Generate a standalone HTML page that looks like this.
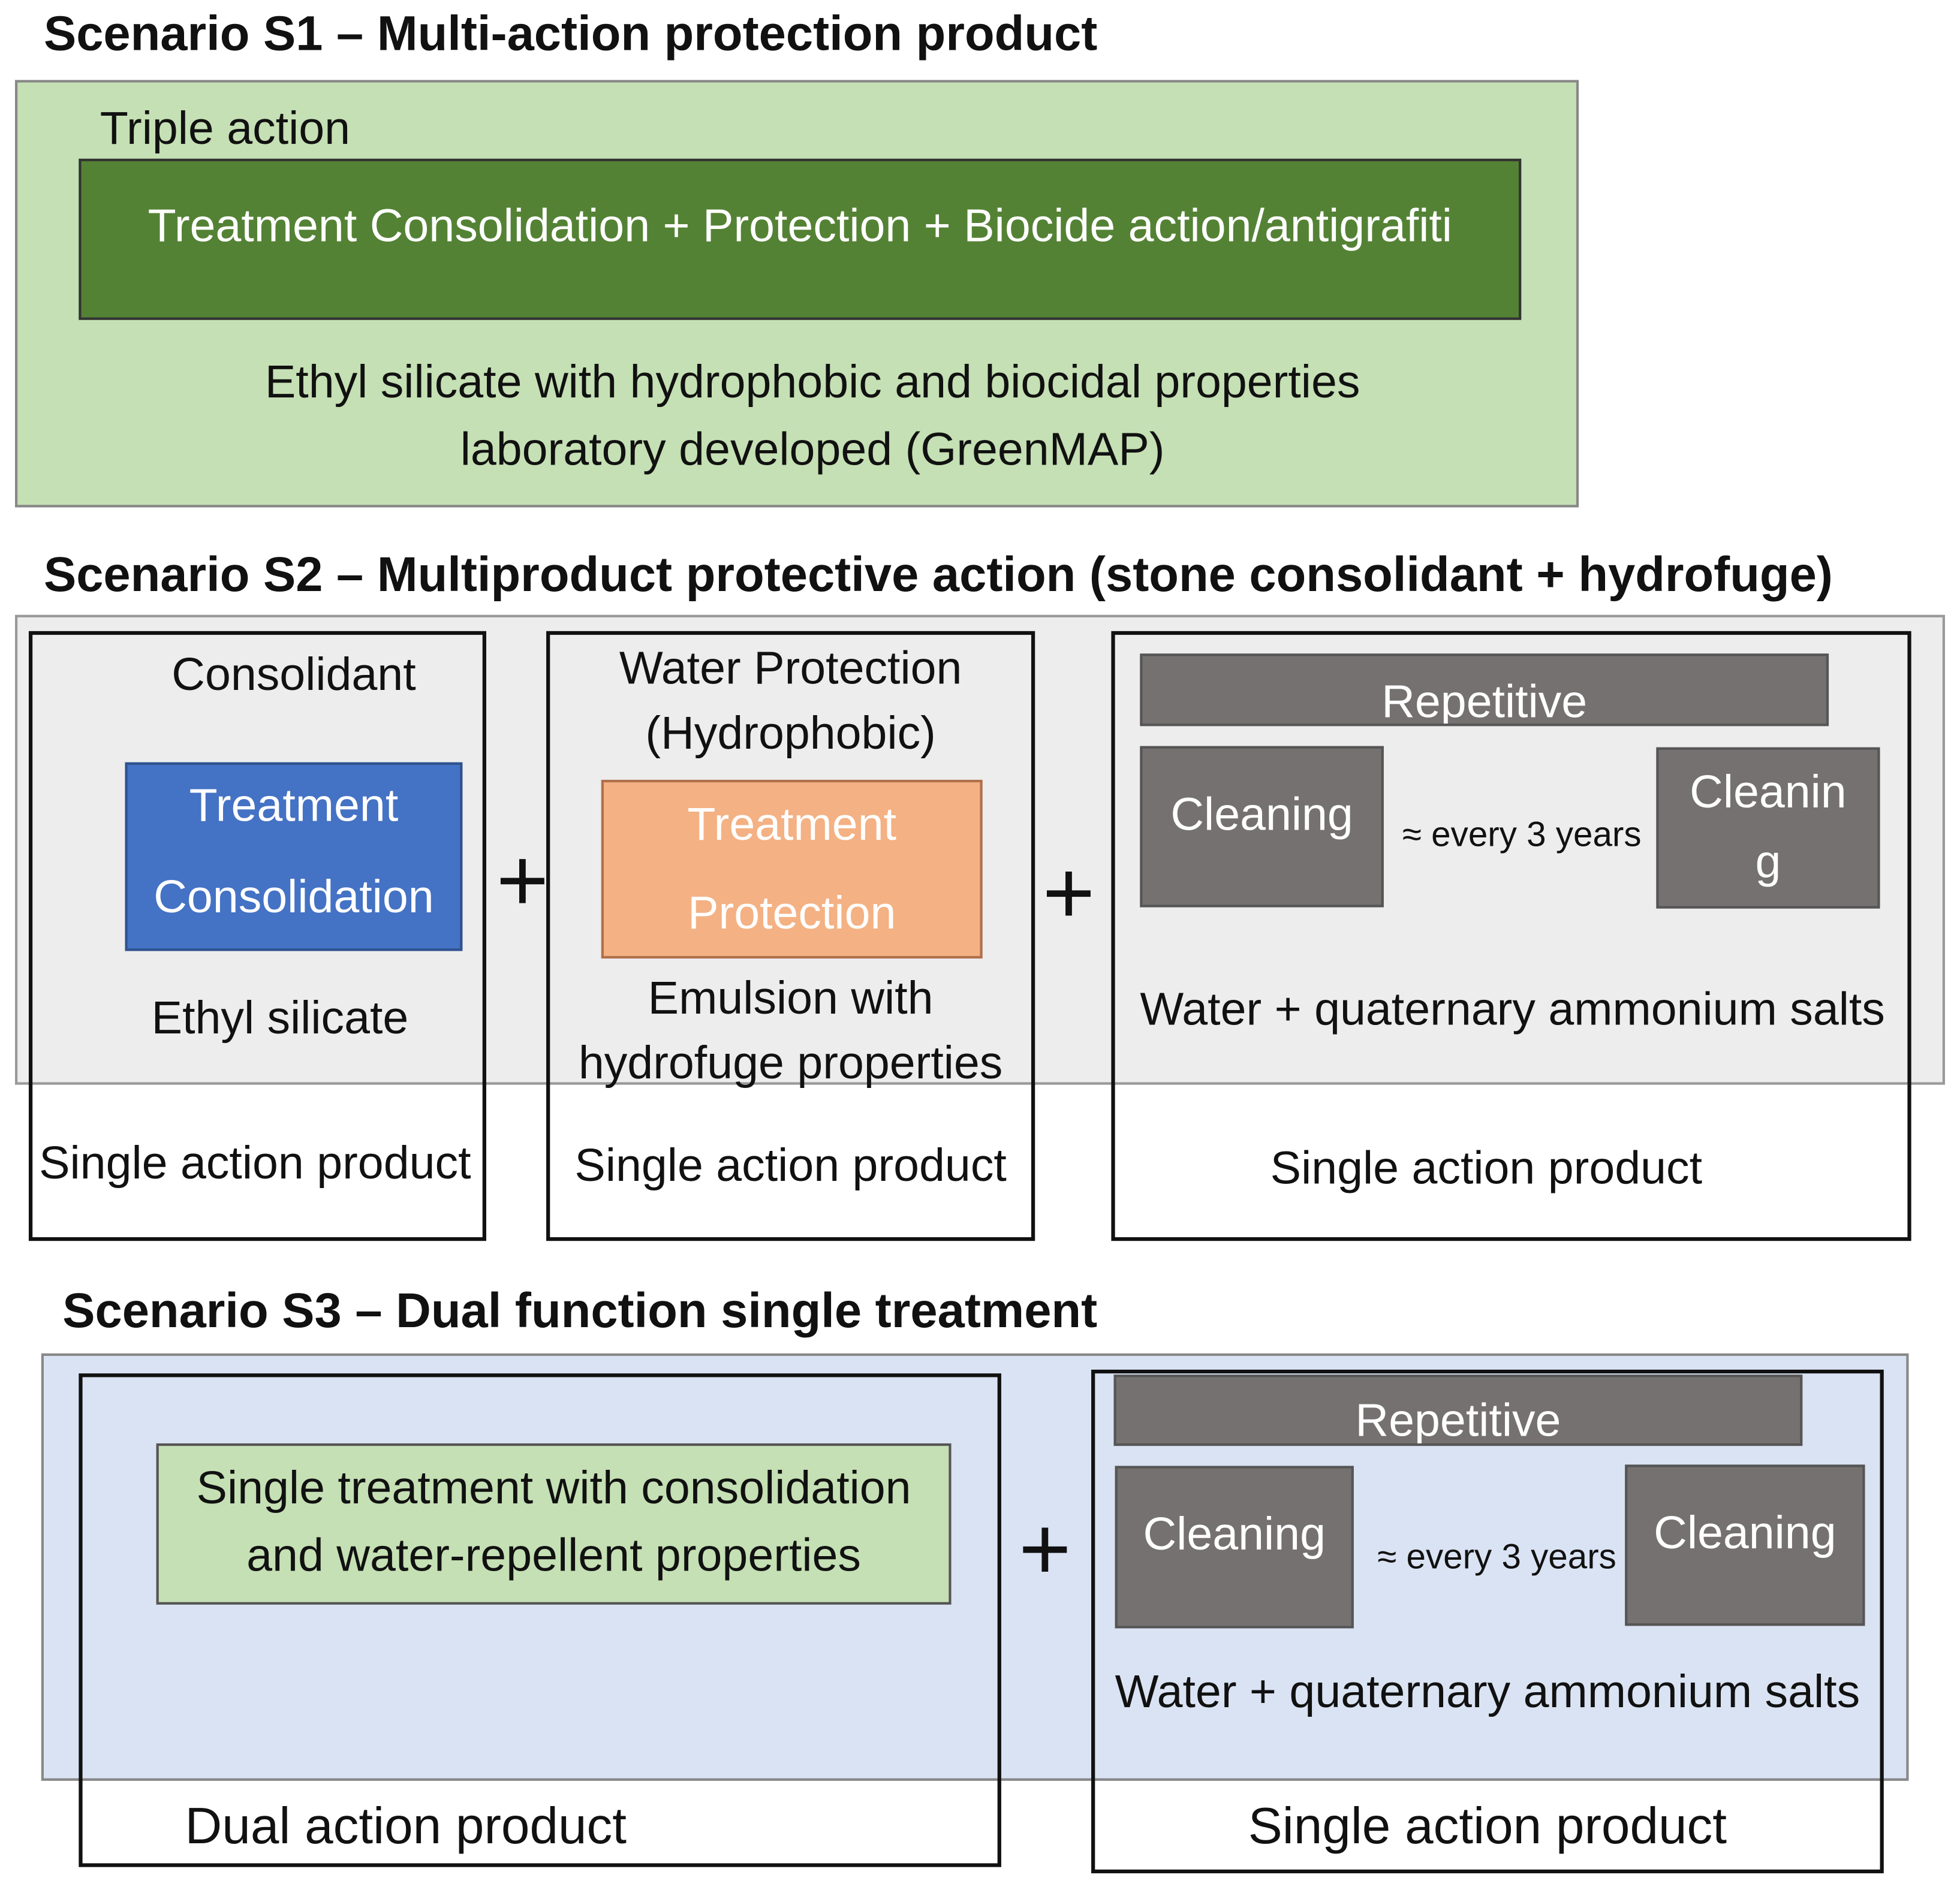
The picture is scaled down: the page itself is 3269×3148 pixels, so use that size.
<!DOCTYPE html>
<html><head><meta charset="utf-8"><style>
html,body{margin:0;padding:0;background:#fff;}
#w{position:relative;width:1568px;height:1510px;transform:scale(2.0848);transform-origin:0 0;font-family:"Liberation Sans",sans-serif;color:#111;}
.b{position:absolute;box-sizing:border-box;}
.t{position:absolute;white-space:nowrap;line-height:40px;height:40px;font-size:37px;text-align:center;}
.h{font-weight:bold;font-size:39px;text-align:left;}
.wt{color:#fff;}
.plus{font-size:72px;line-height:80px;height:80px;font-weight:normal;}
.g{background:#757171;border:2px solid #555;}
.s{font-size:28px;}
.l{font-size:41px;}
</style></head><body><div id="w">

<div class="t h" style="left:35px;top:8px;">Scenario S1 – Multi-action protection product</div>
<div class="b" style="left:12px;top:64px;width:1251px;height:342px;background:#c5e0b4;border:2px solid #888;"></div>
<div class="t" style="left:80px;top:83px;text-align:left;">Triple action</div>
<div class="b" style="left:63px;top:127px;width:1154px;height:129px;background:#548235;border:2px solid #333;"></div>
<div class="t wt" style="left:63px;width:1154px;top:161px;">Treatment Consolidation + Protection + Biocide action/antigrafiti</div>
<div class="t" style="left:150px;width:1000px;top:286px;">Ethyl silicate with hydrophobic and biocidal properties</div>
<div class="t" style="left:150px;width:1000px;top:340px;">laboratory developed (GreenMAP)</div>

<div class="t h" style="left:35px;top:441px;">Scenario S2 – Multiproduct protective action (stone consolidant + hydrofuge)</div>
<div class="b" style="left:12px;top:492px;width:1544px;height:376px;background:#ededed;border:2px solid #999;"></div>
<div class="b" style="left:23px;top:505px;width:366px;height:488px;border:3px solid #111;"></div>
<div class="t" style="left:85px;width:300px;top:520px;">Consolidant</div>
<div class="b" style="left:100px;top:610px;width:270px;height:151px;background:#4472c4;border:2px solid #2f528f;"></div>
<div class="t wt" style="left:100px;width:270px;top:625px;">Treatment</div>
<div class="t wt" style="left:100px;width:270px;top:698px;">Consolidation</div>
<div class="t" style="left:74px;width:300px;top:795px;">Ethyl silicate</div>
<div class="t" style="left:24px;width:360px;top:911px;">Single action product</div>
<div class="t plus" style="left:388px;width:60px;top:665px;">+</div>

<div class="b" style="left:437px;top:505px;width:391px;height:488px;border:3px solid #111;"></div>
<div class="t" style="left:437px;width:391px;top:515px;">Water Protection</div>
<div class="t" style="left:437px;width:391px;top:567px;">(Hydrophobic)</div>
<div class="b" style="left:481px;top:624px;width:305px;height:143px;background:#f4b183;border:2px solid #b0704a;"></div>
<div class="t wt" style="left:481px;width:305px;top:640px;">Treatment</div>
<div class="t wt" style="left:481px;width:305px;top:711px;">Protection</div>
<div class="t" style="left:437px;width:391px;top:779px;">Emulsion with</div>
<div class="t" style="left:437px;width:391px;top:831px;">hydrofuge properties</div>
<div class="t" style="left:437px;width:391px;top:913px;">Single action product</div>
<div class="t plus" style="left:825px;width:60px;top:675px;">+</div>

<div class="b" style="left:889px;top:505px;width:640px;height:488px;border:3px solid #111;"></div>
<div class="b g" style="left:912px;top:523px;width:551px;height:58px;overflow:hidden;"><div class="t wt" style="left:0;width:547px;top:17px;">Repetitive</div></div>
<div class="b g" style="left:912px;top:597px;width:195px;height:129px;"></div>
<div class="t wt" style="left:912px;width:195px;top:632px;">Cleaning</div>
<div class="t s" style="left:1110px;width:215px;top:648px;">≈ every 3 years</div>
<div class="b g" style="left:1325px;top:598px;width:179px;height:129px;"></div>
<div class="t wt" style="left:1325px;width:179px;top:614px;">Cleanin</div>
<div class="t wt" style="left:1325px;width:179px;top:670px;">g</div>
<div class="t" style="left:895px;width:630px;top:788px;">Water + quaternary ammonium salts</div>
<div class="t" style="left:889px;width:600px;top:915px;">Single action product</div>

<div class="t h" style="left:50px;top:1030px;">Scenario S3 – Dual function single treatment</div>
<div class="b" style="left:33px;top:1083px;width:1494px;height:342px;background:#dae3f3;border:2px solid #888;"></div>
<div class="b" style="left:63px;top:1099px;width:738px;height:395px;border:3px solid #111;"></div>
<div class="b" style="left:125px;top:1155px;width:636px;height:129px;background:#c5e0b4;border:2px solid #555;"></div>
<div class="t" style="left:125px;width:636px;top:1171px;">Single treatment with consolidation</div>
<div class="t" style="left:125px;width:636px;top:1225px;">and water-repellent properties</div>
<div class="t l" style="left:148px;top:1441px;text-align:left;">Dual action product</div>
<div class="t plus" style="left:806px;width:60px;top:1200px;">+</div>

<div class="b" style="left:873px;top:1096px;width:634px;height:403px;border:3px solid #111;"></div>
<div class="b g" style="left:891px;top:1100px;width:551px;height:57px;overflow:hidden;"><div class="t wt" style="left:0;width:547px;top:15px;">Repetitive</div></div>
<div class="b g" style="left:892px;top:1173px;width:191px;height:130px;"></div>
<div class="t wt" style="left:892px;width:191px;top:1208px;">Cleaning</div>
<div class="t s" style="left:1090px;width:215px;top:1226px;">≈ every 3 years</div>
<div class="b g" style="left:1300px;top:1172px;width:192px;height:129px;"></div>
<div class="t wt" style="left:1300px;width:192px;top:1207px;">Cleaning</div>
<div class="t" style="left:875px;width:630px;top:1334px;">Water + quaternary ammonium salts</div>
<div class="t l" style="left:875px;width:630px;top:1441px;">Single action product</div>

</div></body></html>
